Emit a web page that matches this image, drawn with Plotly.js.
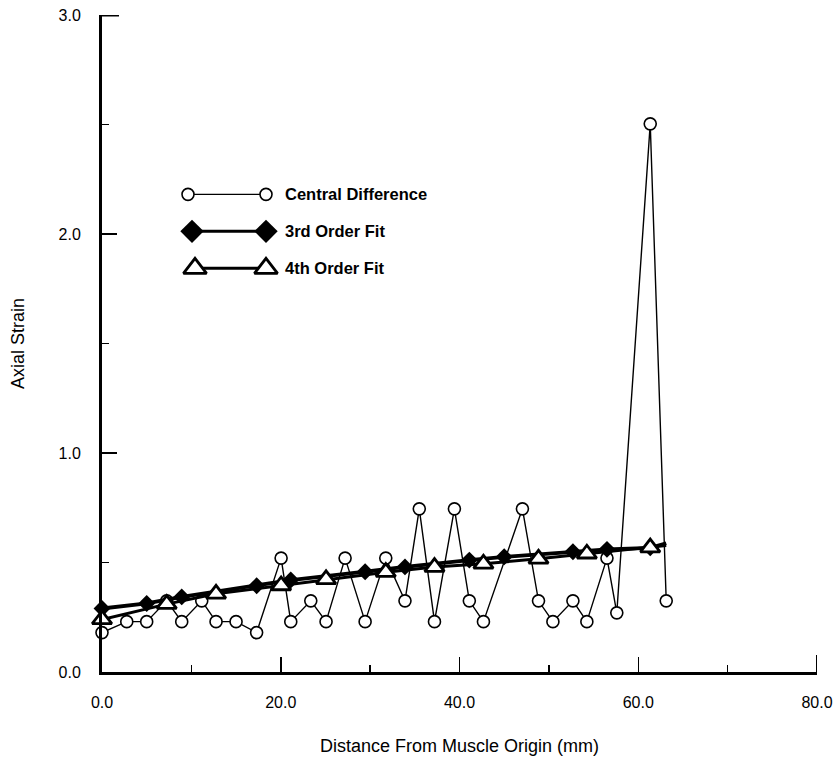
<!DOCTYPE html>
<html>
<head>
<meta charset="utf-8">
<script src="https://cdn.plot.ly/plotly-3.0.1.min.js"></script>
<style>
  html, body { margin: 0; padding: 0; background: #fff; }
  #chart { width: 834px; height: 760px; }
</style>
</head>
<body>
<div id="chart"></div>
<script>
// ---- Data ----
const cdX = [0, 2.77, 5.0, 7.24, 8.92, 11.16, 12.76, 15.0, 17.3, 20.04, 21.12, 23.36, 25.07, 27.2, 29.44,
             31.75, 33.9, 35.5, 37.2, 39.43, 41.1, 42.68, 47.04, 48.84, 50.45, 52.69, 54.25, 56.5, 57.6, 61.34, 63.13];
const cdY = [0.18, 0.23, 0.23, 0.325, 0.23, 0.325, 0.23, 0.23, 0.18, 0.52, 0.23, 0.325, 0.23, 0.52, 0.23,
             0.52, 0.325, 0.745, 0.23, 0.745, 0.325, 0.23, 0.745, 0.325, 0.23, 0.325, 0.23, 0.52, 0.27, 2.503, 0.325];

const fit3X = [0, 5.0, 8.92, 17.3, 21.12, 29.44, 33.9, 41.1, 45.0, 52.69, 56.5, 61.34, 63.13];
const fit3Y = [0.29, 0.313, 0.343, 0.394, 0.42, 0.458, 0.48, 0.511, 0.526, 0.549, 0.56, 0.567, 0.588];

const fit4X = [0, 7.24, 12.76, 20.04, 25.07, 31.75, 37.2, 42.68, 48.84, 54.25, 61.34, 63.13];
const fit4Y = [0.24, 0.31, 0.357, 0.395, 0.423, 0.456, 0.479, 0.494, 0.517, 0.54, 0.568, 0.578];

const seriesNames = ["Central Difference", "3rd Order Fit", "4th Order Fit"];
const xTitle = "Distance From Muscle Origin (mm)";
const yTitle = "Axial Strain";
const xRange = [0, 80];
const yRange = [0, 3];

// ---- Styles ----
const FONT = "Liberation Sans, Arial, Helvetica, sans-serif";
// fitted curves run past their last marker: hide the final marker
const endless = (arr, s) => arr.map((_, i) => i === arr.length - 1 ? 0 : s);

const traces = [
  {
    x: cdX, y: cdY, type: "scatter", mode: "lines+markers", name: seriesNames[0],
    line: { color: "#000", width: 1.4 },
    marker: { symbol: "circle", size: 12, color: "#fff", opacity: 1, line: { color: "#000", width: 1.6 } },
    showlegend: false, cliponaxis: false
  },
  {
    x: fit3X, y: fit3Y, type: "scatter", mode: "lines+markers", name: seriesNames[1],
    line: { color: "#000", width: 3.8 },
    marker: { symbol: "diamond", size: endless(fit3X, 13), color: "#000", opacity: 1, line: { color: "#000", width: 0 } },
    showlegend: false, cliponaxis: false
  },
  {
    x: fit4X, y: fit4Y, type: "scatter", mode: "lines+markers", name: seriesNames[2],
    line: { color: "#000", width: 3 },
    marker: { symbol: "triangle-up", size: endless(fit4X, 17), color: "#fff", opacity: 1, line: { color: "#000", width: 2.8 } },
    showlegend: false, cliponaxis: false
  }
];

// ---- Hand-drawn legend (line sample with a marker at both ends), on a pixel overlay axis ----
const legendRows = [
  { x0: 188, x1: 266, y: 194, lw: 1.4, marker: traces[0].marker, msize: 12 },
  { x0: 192, x1: 266, y: 231, lw: 3, marker: traces[1].marker, msize: 18 },
  { x0: 195, x1: 266, y: 268, lw: 3, marker: traces[2].marker, msize: 20 }
];
legendRows.forEach((r) => {
  traces.push({
    x: [r.x0, r.x1], y: [r.y, r.y], xaxis: "x2", yaxis: "y2",
    type: "scatter", mode: "lines+markers", hoverinfo: "skip", showlegend: false,
    line: { color: "#000", width: r.lw },
    marker: Object.assign({}, r.marker, { size: r.msize }),
    cliponaxis: false
  });
});
const legendAnnotations = legendRows.map((r, i) => ({
  xref: "x2", yref: "y2", x: 283, y: r.y, xanchor: "left", yanchor: "middle",
  text: "<b>" + seriesNames[i] + "</b>", showarrow: false,
  font: { family: FONT, size: 16.5, color: "#000" }
}));

// Plotly omits ticks at the very ends of the axes; the reference draws them.
const shapes = [
  // top tick of the y axis (at 3.0), pointing inward, 17 px long
  { type: "line", xref: "paper", yref: "y", x0: 0, x1: 17, y0: yRange[1], y1: yRange[1],
    xsizemode: "pixel", xanchor: 0, line: { color: "#000", width: 3 } },
  // right-end tick of the x axis (at 80.0), pointing inward, 17 px long
  { type: "line", xref: "x", yref: "paper", x0: xRange[1], x1: xRange[1], y0: 0, y1: 17,
    ysizemode: "pixel", yanchor: 0, line: { color: "#000", width: 2 } }
];

const layout = {
  width: 834, height: 760,
  margin: { l: 102, r: 17, t: 14.5, b: 88 },
  paper_bgcolor: "#fff", plot_bgcolor: "#fff",
  font: { family: FONT, color: "#000", size: 16 },
  showlegend: false,
  xaxis: {
    range: xRange, dtick: 20, tickformat: ".1f",
    showgrid: false, zeroline: false,
    showline: true, linecolor: "#000", linewidth: 3,
    ticks: "inside", ticklen: 15, tickwidth: 1.5, tickcolor: "#000",
    minor: { ticks: "inside", ticklen: 7, tickwidth: 1.5, dtick: 10, tickcolor: "#000", showgrid: false },
    ticklabelstandoff: 14,
    tickfont: { family: FONT, size: 16 },
    title: { text: xTitle, font: { family: FONT, size: 18 }, standoff: 30 },
    fixedrange: true
  },
  yaxis: {
    range: yRange, dtick: 1, tickformat: ".1f",
    showgrid: false, zeroline: false,
    showline: true, linecolor: "#000", linewidth: 3,
    ticks: "inside", ticklen: 15, tickwidth: 1.5, tickcolor: "#000",
    minor: { ticks: "inside", ticklen: 7, tickwidth: 1.5, dtick: 0.5, tickcolor: "#000", showgrid: false },
    ticklabelstandoff: 15,
    tickfont: { family: FONT, size: 16 },
    title: { text: yTitle, font: { family: FONT, size: 18 }, standoff: 30 },
    fixedrange: true
  },
  xaxis2: { overlaying: "x", range: [102, 817], visible: false, fixedrange: true },
  yaxis2: { overlaying: "y", range: [672, 14.5], visible: false, fixedrange: true },
  annotations: legendAnnotations,
  shapes: shapes
};

Plotly.newPlot("chart", traces, layout, { displayModeBar: false, staticPlot: true });
</script>
</body>
</html>
